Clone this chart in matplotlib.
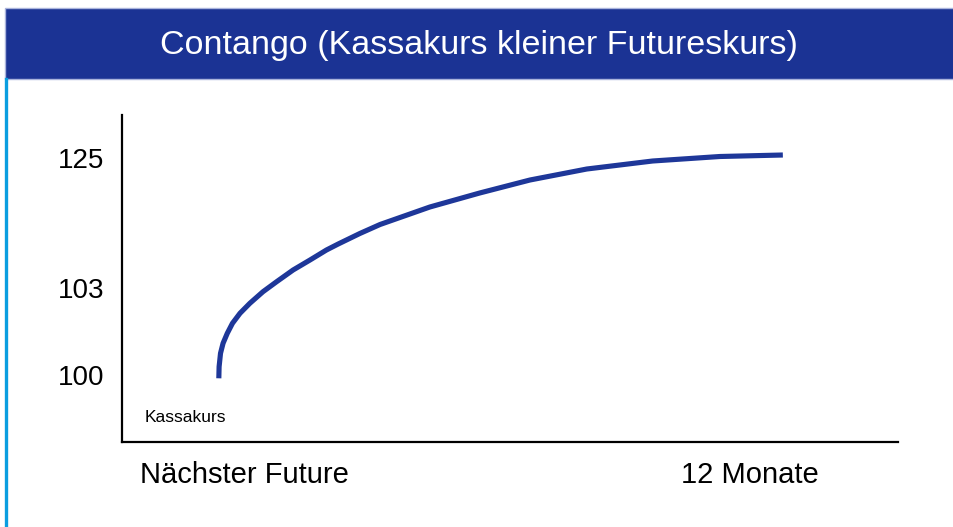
import matplotlib.pyplot as plt
from matplotlib.patches import Rectangle
from matplotlib.lines import Line2D

plt.rcParams['font.family'] = ['Liberation Sans', 'DejaVu Sans']

title = "Contango (Kassakurs kleiner Futureskurs)"

# Futureskurve: Laufzeit in Monaten, Höhe in Diagrammeinheiten (schematisch)
months = [0.0, 0.006, 0.036, 0.09, 0.18, 0.29, 0.45, 0.66, 0.94, 1.23,
          1.58, 1.94, 2.29, 2.54, 3.00, 3.43, 4.49, 5.55, 6.62, 7.83,
          9.23, 10.66, 12.0]
level = [63.7, 75.3, 88.7, 98.7, 108.7, 118.7, 128.7, 138.7, 150.3, 160.3,
         172, 182, 192, 198, 208.5, 217.5, 235, 249, 262, 273,
         281, 285.5, 287]

y_tick_pos = [67, 154, 284]
y_tick_labels = ["100", "103", "125"]
x_tick_pos = [0.55, 11.29]
x_tick_labels = ["Nächster Future", "12 Monate"]

navy = "#1b3394"
line_col = "#1e3799"

fig = plt.figure(figsize=(9.54, 5.27), dpi=100)

# Titelbalken
fig.patches.append(Rectangle((5 / 954, 1 - 79 / 527), 1, 71 / 527,
                             transform=fig.transFigure, facecolor=navy,
                             edgecolor="#aab4dc", linewidth=1))
fig.text(479 / 954, 1 - 45 / 527, title, color="white", fontsize=24.5,
         ha="center", va="center")
# hellblaue Linie links
fig.lines.append(Line2D([6.5 / 954, 6.5 / 954], [0, 1 - 79 / 527],
                        transform=fig.transFigure, color="#0a9ee0", linewidth=2.4))

ax = fig.add_axes([122 / 954, 85 / 527, 776 / 954, 327 / 527])
ax.plot(months, level, color=line_col, linewidth=3.7,
        solid_capstyle="butt", solid_joinstyle="round")

ax.set_xlim(-2.06, 14.45)
ax.set_ylim(0, 327)

ax.spines["top"].set_visible(False)
ax.spines["right"].set_visible(False)
for s in ("left", "bottom"):
    ax.spines[s].set_linewidth(1.6)
    ax.spines[s].set_color("black")

ax.set_yticks(y_tick_pos)
ax.set_yticklabels(y_tick_labels, fontsize=20)
ax.set_xticks(x_tick_pos)
ax.set_xticklabels(x_tick_labels, fontsize=21)
ax.tick_params(axis="y", length=0, pad=13)
ax.tick_params(axis="x", length=0, pad=14)

ax.text(-1.57, 24, "Kassakurs", fontsize=12.5, va="center", ha="left")

fig.savefig("out.png", dpi=100)
